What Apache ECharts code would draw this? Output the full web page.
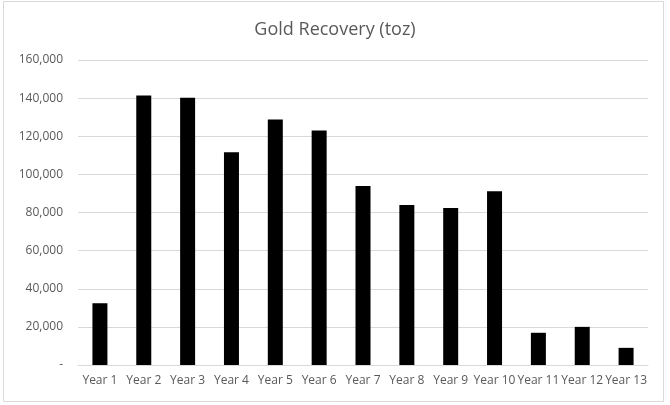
<!DOCTYPE html>
<html>
<head>
<meta charset="utf-8">
<script src="https://cdn.jsdelivr.net/npm/echarts@6/dist/echarts.min.js"></script>
<style>html,body{margin:0;padding:0;background:#fff}#c{width:670px;height:405px}</style>
</head>
<body>
<div id="c"></div>
<script>
var categories = ['Year 1','Year 2','Year 3','Year 4','Year 5','Year 6','Year 7','Year 8','Year 9','Year 10','Year 11','Year 12','Year 13'];
var goldRecovery = [32400, 141400, 140200, 111600, 128800, 123000, 93900, 83900, 82300, 91200, 16900, 20000, 9000];
var yTicks = [0, 20000, 40000, 60000, 80000, 100000, 120000, 140000, 160000];

var chart = echarts.init(document.getElementById('c'), null, {renderer: 'canvas'});
chart.setOption({
  animation: false,
  backgroundColor: '#fff',
  textStyle: {fontFamily: 'Open Sans, Liberation Sans, sans-serif'},
  title: {
    text: 'Gold Recovery (toz)',
    left: 'center',
    top: 16,
    textStyle: {color: '#595959', fontSize: 18, fontWeight: 'normal', fontFamily: 'Open Sans, Liberation Sans, sans-serif'}
  },
  graphic: [{
    type: 'rect',
    shape: {x: 3.5, y: 1.5, width: 660, height: 400},
    style: {fill: 'none', stroke: '#d9d9d9', lineWidth: 1},
    silent: true
  }],
  grid: {left: 78, right: 22, top: 60, bottom: 40, containLabel: false},
  xAxis: {
    type: 'category',
    data: categories,
    axisLine: {lineStyle: {color: '#d9d9d9'}},
    axisTick: {show: false},
    axisLabel: {color: '#595959', fontSize: 12, margin: 10, interval: 0}
  },
  yAxis: {
    type: 'value',
    min: yTicks[0],
    max: yTicks[yTicks.length - 1],
    interval: yTicks[1] - yTicks[0],
    axisLine: {show: false},
    axisTick: {show: false},
    splitLine: {lineStyle: {color: '#d9d9d9'}},
    axisLabel: {
      color: '#595959', fontSize: 12, margin: 15,
      formatter: function (v) { return v === 0 ? '-' : v.toLocaleString('en-US'); }
    }
  },
  series: [{
    type: 'bar',
    data: goldRecovery,
    barWidth: 15,
    itemStyle: {color: '#000000'}
  }]
});
</script>
</body>
</html>
